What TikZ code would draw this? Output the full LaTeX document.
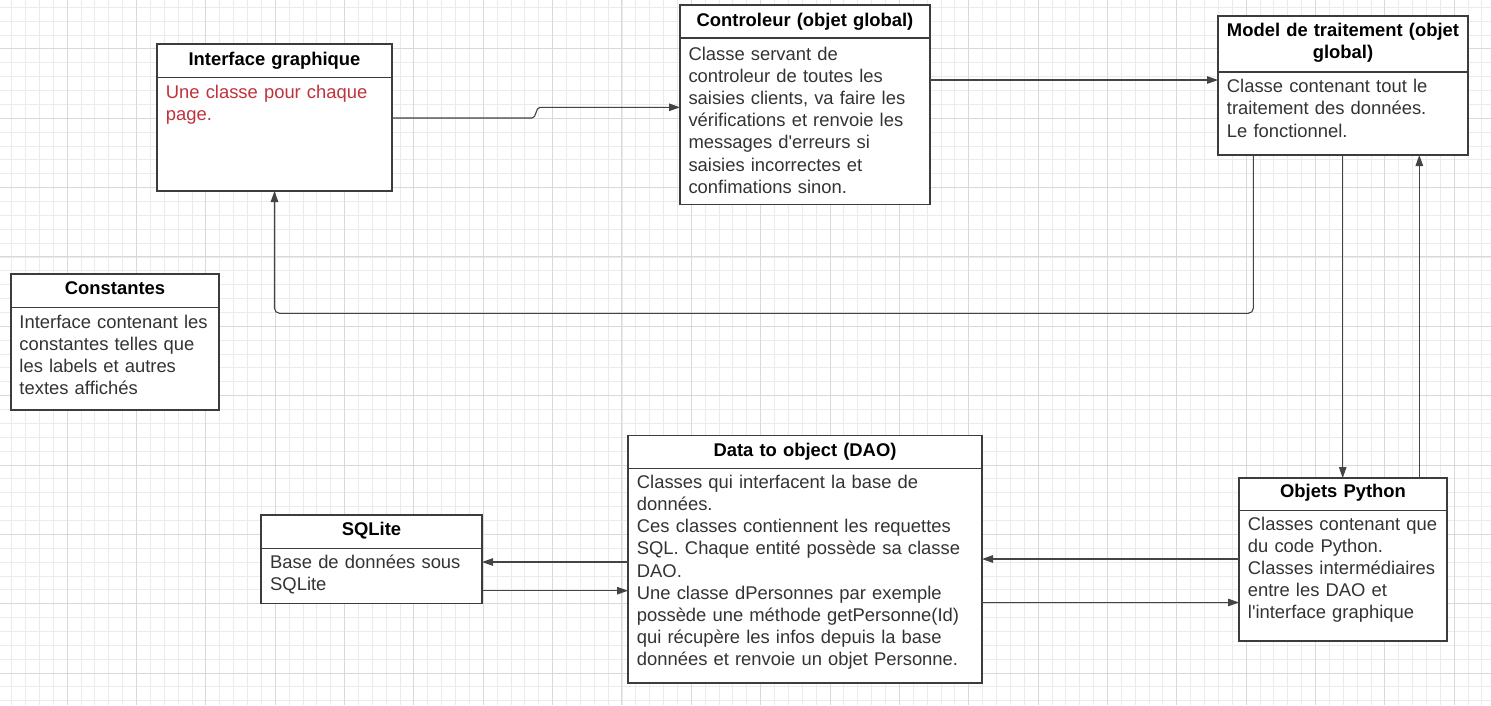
\documentclass[tikz,border=0pt]{standalone}
\usepackage{fontspec}
\setmainfont{Liberation Sans}
\usetikzlibrary{arrows.meta}
\definecolor{gridmin}{HTML}{EBEBEB}
\definecolor{gridmaj}{HTML}{D9D9D9}
\definecolor{boxcol}{HTML}{3C3C3C}
\definecolor{conncol}{HTML}{444444}
\definecolor{bodycol}{HTML}{333333}
\definecolor{redtxt}{HTML}{C0323C}
\tikzset{
  gridminor/.style={draw=gridmin, line width=0.9pt},
  gridmajor/.style={draw=gridmaj, line width=1pt},
  classbox/.style={draw=boxcol, fill=white, line width=1.6pt, inner sep=0pt, outer sep=0pt, anchor=north west},
  divline/.style={draw=boxcol, line width=1.6pt},
  ttl/.style={font=\bfseries\fontsize{18.4}{22.2}\selectfont, text=black, align=center, inner sep=0pt, anchor=base},
  bodytxt/.style={font=\fontsize{18.4}{22.2}\selectfont, text=bodycol, align=left, inner sep=0pt, anchor=base west, text width=420pt},
  conn/.style={draw=conncol, line width=1.1pt},
  arr/.style={conn, -{Triangle[length=11pt,width=7.5pt]}},
}
\begin{document}
\begin{tikzpicture}[x=1pt, y=-1pt]
\useasboundingbox (0,0) rectangle (1491,705);
\fill[white] (0,0) rectangle (1491,705);
% grid
\foreach \k in {0,...,106} \draw[gridminor] ({11.7+13.87*\k},0) -- ({11.7+13.87*\k},705);
\foreach \k in {0,...,50} \draw[gridminor] (0,{7.3+13.87*\k}) -- (1491,{7.3+13.87*\k});
\foreach \k in {4,9,...,104} \draw[gridmajor] ({11.7+13.87*\k},0) -- ({11.7+13.87*\k},705);
\foreach \k in {3,8,...,48} \draw[gridmajor] (0,{7.3+13.87*\k}) -- (1491,{7.3+13.87*\k});

% boxes
\node[classbox, minimum width=235pt, minimum height=147pt] (ig) at (157,44) {};
\node[classbox, minimum width=250pt, minimum height=199.5pt] (ctl) at (680,5) {};
\node[classbox, minimum width=250pt, minimum height=139pt] (mdl) at (1218,16) {};
\node[classbox, minimum width=208pt, minimum height=136pt] (cst) at (11,274) {};
\node[classbox, minimum width=354pt, minimum height=247.5pt] (dao) at (628,435.5) {};
\node[classbox, minimum width=221pt, minimum height=88.5pt] (sql) at (261,515) {};
\node[classbox, minimum width=208pt, minimum height=163pt] (py) at (1239,478) {};

% dividers
\draw[divline] (ig.west |- 0,77.5) -- (ig.east |- 0,77.5);
\draw[divline] (ctl.west |- 0,37.7) -- (ctl.east |- 0,37.7);
\draw[divline] (mdl.west |- 0,72) -- (mdl.east |- 0,72);
\draw[divline] (cst.west |- 0,307.3) -- (cst.east |- 0,307.3);
\draw[divline] (dao.west |- 0,468.3) -- (dao.east |- 0,468.3);
\draw[divline] (sql.west |- 0,548.3) -- (sql.east |- 0,548.3);
\draw[divline] (py.west |- 0,510.3) -- (py.east |- 0,510.3);

% titles
\node[ttl, text width=235pt] (igT) at (ig.north |- 0,65) {Interface graphique};
\node[ttl, text width=250pt] (ctlT) at (ctl.north |- 0,26.7) {Controleur (objet global)};
\node[ttl, text width=250pt] (mdlT) at (mdl.north |- 0,36.7) {Model de traitement (objet\\global)};
\node[ttl, text width=208pt] (cstT) at (cst.north |- 0,294.3) {Constantes};
\node[ttl, text width=354pt] (daoT) at (dao.north |- 0,456) {Data to object (DAO)};
\node[ttl, text width=221pt] (sqlT) at (sql.north |- 0,535) {SQLite};
\node[ttl, text width=208pt] (pyT) at (py.north |- 0,497.3) {Objets Python};

% bodies
\node[bodytxt, text=redtxt] (igB) at (165.7,98.3) {Une classe pour chaque\\page.};
\node[bodytxt] (ctlB) at (688.3,60) {Classe servant de\\controleur de toutes les\\saisies clients, va faire les\\vérifications et renvoie les\\messages d\textquotesingle erreurs si\\saisies incorrectes et\\confimations sinon.};
\node[bodytxt] (mdlB) at (1226.7,92.7) {Classe contenant tout le\\traitement des données.\\Le fonctionnel.};
\node[bodytxt] (cstB) at (19.3,328.3) {Interface contenant les\\constantes telles que\\les labels et autres\\textes affichés};
\node[bodytxt] (daoB) at (636.7,488.3) {Classes qui interfacent la base de\\données.\\Ces classes contiennent les requettes\\SQL. Chaque entité possède sa classe\\DAO.\\Une classe dPersonnes par exemple\\possède une méthode getPersonne(Id)\\qui récupère les infos depuis la base\\données et renvoie un objet Personne.};
\node[bodytxt] (sqlB) at (270,568.3) {Base de données sous\\SQLite};
\node[bodytxt] (pyB) at (1247.7,530) {Classes contenant que\\du code Python.\\Classes intermédiaires\\entre les DAO et\\l\textquotesingle interface graphique};

% connectors
\draw[arr] (ig.east |- 0,118) -- (532,118) .. controls (536.5,118) and (535.5,107.3) .. (540,107.3) -- (ctl.west |- 0,107.3);
\draw[arr] (ctl.east |- 0,80) -- (mdl.west |- 0,80);
\draw[arr, rounded corners=5pt] (mdl.south -| 1253.3,0) -- (1253.3,313.3) -- (ig.south |- 0,313.3) -- (ig.south);
\draw[arr] (mdl.south -| 1342.7,0) -- (py.north -| 1342.7,0);
\draw[arr] (py.north -| 1419.3,0) -- (mdl.south -| 1419.3,0);
\draw[arr] (py.west |- 0,559) -- (dao.east |- 0,559);
\draw[arr] (dao.east |- 0,602.5) -- (py.west |- 0,602.5);
\draw[arr] (dao.west |- 0,562) -- (sql.east |- 0,562);
\draw[arr] (sql.east |- 0,590.7) -- (dao.west |- 0,590.7);
\end{tikzpicture}
\end{document}
